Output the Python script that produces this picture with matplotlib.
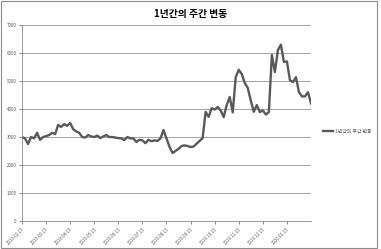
import matplotlib
matplotlib.use("Agg")
import matplotlib.pyplot as plt
from matplotlib.patches import Rectangle

plt.rcParams['font.family'] = ['Noto Sans CJK KR', 'DejaVu Sans']

title = "1년간의 주간 변동"
series_name = "1년간의 주간 변동"
tick_labels = ["2019.02.15", "2019.03.15", "2019.04.15", "2019.05.15", "2019.06.15",
               "2019.07.15", "2019.08.15", "2019.09.15", "2019.10.15", "2019.11.15",
               "2019.12.15", "2020.01.15"]
values = [3000, 2950, 2750, 3000, 2950, 3150, 2900, 3000, 3030, 3070,
          3150, 3100, 3430, 3360, 3460, 3400, 3500, 3280, 3200, 3150,
          3000, 2980, 3070, 3020, 3000, 3050, 2960, 3020, 3070, 3000,
          3000, 2980, 2960, 2950, 2890, 3000, 2950, 2950, 2820, 2900,
          2880, 2780, 2900, 2850, 2880, 2860, 2950, 3250, 2950, 2650,
          2430, 2500, 2580, 2680, 2700, 2680, 2640, 2660, 2760, 2860,
          2960, 3900, 3720, 4030, 3980, 4070, 3950, 3710, 4140, 4430,
          3880, 5140, 5400, 5250, 4930, 4750, 4300, 3900, 4140, 3890,
          3950, 3800, 3890, 5930, 5320, 6100, 6300, 5680, 5700, 5030,
          4960, 5140, 4600, 4450, 4450, 4600, 4200]
points_per_tick = 8

fig = plt.figure(figsize=(3.81, 2.49), dpi=100)
ax = fig.add_axes([22/381, 28/249, 289/381, 196/249])

x = list(range(len(values)))
ax.plot(x, values, color='#595959', linewidth=1.7, label=series_name, solid_joinstyle='round')

ax.set_ylim(0, 7000)
ax.set_yticks(range(0, 7001, 1000))
ax.set_xlim(0, len(values) - 1)
ax.set_xticks([i * points_per_tick for i in range(len(tick_labels))])
ax.set_xticklabels(tick_labels, rotation=45, ha='right', rotation_mode='anchor')
ax.tick_params(axis='both', labelsize=3.2, colors='#595959', length=2.5, width=0.5, pad=1.5)
ax.grid(axis='y', color='#969696', linewidth=0.6)
ax.set_axisbelow(True)
for s in ['top', 'right']:
    ax.spines[s].set_visible(False)
for s in ['left', 'bottom']:
    ax.spines[s].set_color('#8c8c8c')
    ax.spines[s].set_linewidth(0.6)

fig.text(0.5, 0.945, title, ha='center', va='center', fontsize=7, fontweight='bold')
fig.legend(loc='center left', bbox_to_anchor=(0.835, 0.472), frameon=False,
           fontsize=3.5, handlelength=2.2, handletextpad=0.4, labelcolor='#595959')

fig.add_artist(Rectangle((0.002, 0.006), 0.988, 0.99, transform=fig.transFigure,
                         fill=False, edgecolor='#8c8c8c', linewidth=0.8))

fig.savefig("out.png", dpi=100)
